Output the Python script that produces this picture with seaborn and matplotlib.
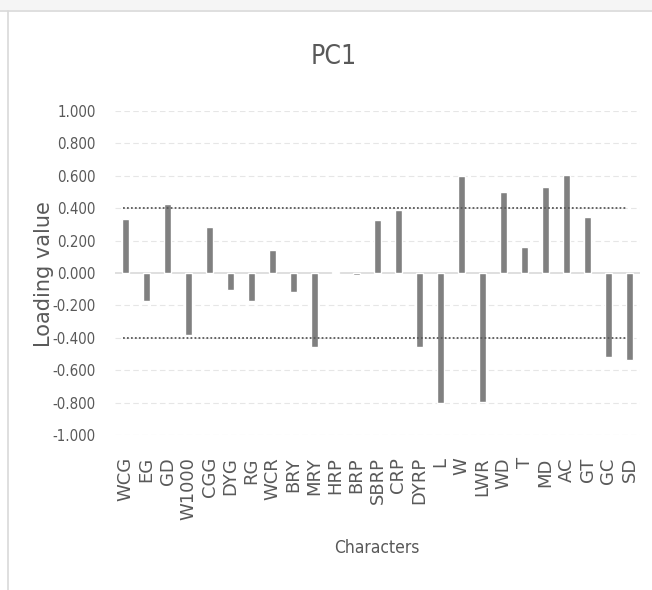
import matplotlib
matplotlib.use("Agg")
import matplotlib.pyplot as plt
import numpy as np
import pandas as pd
import seaborn as sns
from matplotlib.patches import Rectangle
from matplotlib.lines import Line2D

characters = ["WCG", "EG", "GD", "W1000", "CGG", "DYG", "RG", "WCR", "BRY", "MRY",
              "HRP", "BRP", "SBRP", "CRP", "DYRP", "L", "W", "LWR", "WD", "T",
              "MD", "AC", "GT", "GC", "SD"]
loadings = [0.333, -0.17, 0.425, -0.385, 0.283, -0.105, -0.175, 0.14, -0.115, -0.455,
            0.004, -0.012, 0.33, 0.39, -0.455, -0.80, 0.60, -0.795, 0.497, 0.163,
            0.528, 0.605, 0.346, -0.52, -0.535]
yticks = [-1.0, -0.8, -0.6, -0.4, -0.2, 0.0, 0.2, 0.4, 0.6, 0.8, 1.0]
threshold = 0.4

df = pd.DataFrame({"Characters": characters, "Loading": loadings})

sns.set_style("white")
cond = dict(family=["DejaVu Sans"], stretch="condensed")
sans = dict(family=["DejaVu Sans"])
grey = "#595959"

fig = plt.figure(figsize=(6.52, 5.90), dpi=100)
W, H = 652, 590

# chart frame like the spreadsheet export
fig.patches.append(Rectangle((0, 1 - 10 / H), 1, 10 / H, transform=fig.transFigure,
                             facecolor="#f5f5f5", edgecolor="none", zorder=0))
fig.lines.append(Line2D([0, 1], [1 - 10.5 / H, 1 - 10.5 / H], transform=fig.transFigure,
                        color="#d9d9d9", lw=1.2))
fig.lines.append(Line2D([8 / W, 8 / W], [0, 1 - 10.5 / H], transform=fig.transFigure,
                        color="#d9d9d9", lw=1.2))

ax = fig.add_axes([115 / W, 1 - 435 / H, (640 - 115) / W, (435 - 111) / H])
sns.barplot(data=df, x="Characters", y="Loading", color="#808080", width=0.3,
            saturation=1, ax=ax, zorder=3)

ax.set_ylim(-1.0, 1.0)
ax.set_xlim(-0.5, len(characters) - 0.5)
ax.set_yticks(yticks)
ax.set_yticklabels([f"{t:.3f}" for t in yticks], fontsize=10.8, color=grey, **cond)
ax.set_xticks(range(len(characters)))
ax.set_xticklabels(characters, rotation=90, fontsize=13, color=grey, **sans)
ax.tick_params(axis="y", length=0, pad=14)
ax.tick_params(axis="x", length=0, pad=16)

for t in yticks:
    if t != 0:
        ax.axhline(t, color="#e6e6e6", lw=0.8, ls=(0, (5, 3)), zorder=1)
ax.axhline(0, color="#d9d9d9", lw=1.2, zorder=2)
for t in (threshold, -threshold):
    ax.plot([-0.1, len(characters) - 1.1], [t, t], color=grey, lw=1.3,
            ls=(0, (1, 1.2)), zorder=4)

for s in ax.spines.values():
    s.set_visible(False)

ax.set_xlabel("Characters", fontsize=12.5, color=grey, **cond)
ax.xaxis.set_label_coords((377 - 115) / 525, (435 - 548) / 324)
ax.xaxis.label.set_va("center")
ax.set_ylabel("Loading value", fontsize=15, color=grey, **sans)
ax.yaxis.set_label_coords((44 - 115) / 525, (435 - 274) / 324)
ax.yaxis.label.set_va("center")
fig.text(334 / W, 1 - 57 / H, "PC1", ha="center", va="center",
         fontsize=19, color=grey, **cond)

fig.savefig("out.png", dpi=100)
